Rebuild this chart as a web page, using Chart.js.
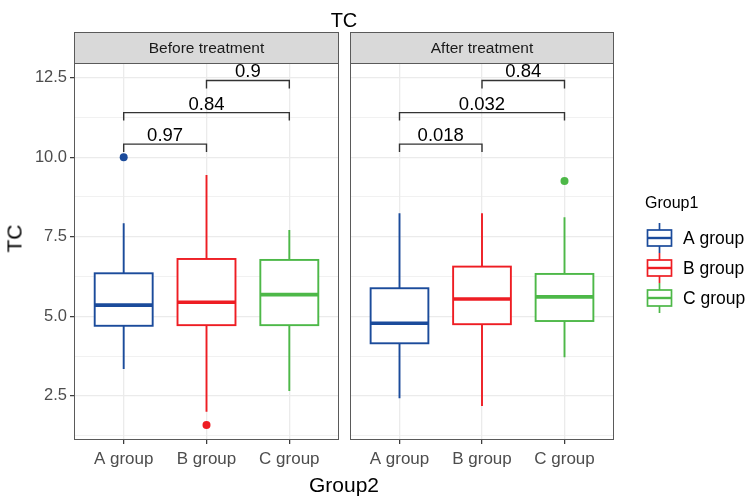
<!DOCTYPE html>
<html>
<head>
<meta charset="utf-8">
<script src="https://cdn.jsdelivr.net/npm/chart.js@4.4.0/dist/chart.umd.min.js"></script>
<style>
    body { margin: 0; background: #fff; }
    #wrap { position: relative; width: 750px; height: 497px; font-family: 'Liberation Sans', Arial, sans-serif; }
    canvas { position: absolute; top: 0; }
    #before { left: 0; }
    #after { left: 345px; }
    .title { position: absolute; color: #000; white-space: nowrap; text-align: center; }
    #main-title { left: 0; width: 688px; top: 10px; font-size: 20px; line-height: 20px; }
    #x-title { left: 0; width: 688px; top: 474px; font-size: 21px; line-height: 21px; }
    #y-title { left: -36px; top: 228px; width: 100px; font-size: 21px; line-height: 21px; transform: rotate(-90deg); }
</style>
</head>
<body>
<div id="wrap">
    <canvas id="before" width="345" height="497"></canvas>
    <canvas id="after" width="405" height="497"></canvas>
    <div class="title" id="main-title">TC</div>
    <div class="title" id="x-title">Group2</div>
    <div class="title" id="y-title">TC</div>
</div>
<script>
const groups = ['A group', 'B group', 'C group'];
const colors = ['#1B4B9B', '#EE1D23', '#4DB848'];

// box stats, one value per group
const beforeMin = [3.34, 2.00, 2.65];
const beforeQ1 = [4.70, 4.72, 4.72];
const beforeMedian = [5.35, 5.44, 5.68];
const beforeQ3 = [6.35, 6.80, 6.77];
const beforeMax = [7.92, 9.44, 7.71];
const beforeOutliers = [[10.0], [1.58], []];

const afterMin = [2.42, 2.18, 3.71];
const afterQ1 = [4.15, 4.75, 4.85];
const afterMedian = [4.78, 5.54, 5.61];
const afterQ3 = [5.88, 6.56, 6.33];
const afterMax = [8.24, 8.24, 8.11];
const afterOutliers = [[], [], [9.25]];

// pairwise comparisons (group numbers), bracket heights and p values
const comparePairs = [[1, 2], [1, 3], [2, 3]];
const bracketLevels = [10.41, 11.40, 12.41];
const beforePValues = ['0.97', '0.84', '0.9'];
const afterPValues = ['0.018', '0.032', '0.84'];

const yTicks = [1.25, 2.5, 3.75, 5, 6.25, 7.5, 8.75, 10, 11.25, 12.5];
const Y_MIN = 1.11;
const Y_MAX = 12.96;

const BOX_WIDTH = 0.7;
const TIP = 0.25;
const FONT = "'Liberation Sans', Arial, sans-serif";
const isMajor = v => Math.abs(v / 2.5 - Math.round(v / 2.5)) < 1e-6;

function panelPlugin(stats, pValues, stripText, withLegend) {
    return {
        id: 'panel',
        beforeDatasetsDraw(chart) {
            const {ctx, scales: {x, y}} = chart;
            ctx.save();
            groups.forEach((g, i) => {
                const cx = x.getPixelForValue(i + 1);
                const left = x.getPixelForValue(i + 1 - BOX_WIDTH / 2);
                const right = x.getPixelForValue(i + 1 + BOX_WIDTH / 2);
                const top = y.getPixelForValue(stats.q3[i]);
                const bot = y.getPixelForValue(stats.q1[i]);
                ctx.strokeStyle = colors[i];
                ctx.lineWidth = 1.9;
                ctx.beginPath();
                ctx.moveTo(cx, y.getPixelForValue(stats.max[i]));
                ctx.lineTo(cx, top);
                ctx.moveTo(cx, bot);
                ctx.lineTo(cx, y.getPixelForValue(stats.min[i]));
                ctx.stroke();
                ctx.fillStyle = '#fff';
                ctx.fillRect(left, top, right - left, bot - top);
                ctx.strokeRect(left, top, right - left, bot - top);
                const my = y.getPixelForValue(stats.median[i]);
                ctx.lineWidth = 3.6;
                ctx.beginPath();
                ctx.moveTo(left, my);
                ctx.lineTo(right, my);
                ctx.stroke();
            });
            ctx.restore();
        },
        afterDatasetsDraw(chart) {
            const {ctx, scales: {x, y}} = chart;
            ctx.save();
            ctx.strokeStyle = '#333';
            ctx.lineWidth = 1.4;
            ctx.fillStyle = '#000';
            ctx.font = `18.5px ${FONT}`;
            ctx.textAlign = 'center';
            ctx.textBaseline = 'alphabetic';
            comparePairs.forEach(([a, b], k) => {
                const x1 = x.getPixelForValue(a);
                const x2 = x.getPixelForValue(b);
                const yl = y.getPixelForValue(bracketLevels[k]);
                const yt = y.getPixelForValue(bracketLevels[k] - TIP);
                ctx.beginPath();
                ctx.moveTo(x1, yt);
                ctx.lineTo(x1, yl);
                ctx.lineTo(x2, yl);
                ctx.lineTo(x2, yt);
                ctx.stroke();
                ctx.fillText(pValues[k], (x1 + x2) / 2, yl - 3);
            });
            ctx.restore();
        },
        afterDraw(chart) {
            const {ctx, chartArea: a} = chart;
            ctx.save();
            // strip on top of panel
            ctx.fillStyle = '#D9D9D9';
            ctx.fillRect(a.left, 32, a.right - a.left, a.top - 32);
            ctx.strokeStyle = '#5a5a5a';
            ctx.lineWidth = 1;
            ctx.strokeRect(a.left + 0.5, 32.5, a.right - a.left - 1, a.top - 32);
            ctx.strokeRect(a.left + 0.5, a.top + 0.5, a.right - a.left - 1, a.bottom - a.top - 1);
            ctx.fillStyle = '#1A1A1A';
            ctx.font = `15.5px ${FONT}`;
            ctx.textAlign = 'center';
            ctx.textBaseline = 'middle';
            ctx.fillText(stripText, (a.left + a.right) / 2, (32 + a.top) / 2 + 1);

            if (withLegend) {
                const lx = 300;
                ctx.textAlign = 'left';
                ctx.fillStyle = '#000';
                ctx.font = `16px ${FONT}`;
                ctx.fillText('Group1', lx, 204);
                ctx.font = `17.5px ${FONT}`;
                groups.forEach((g, i) => {
                    const cy = 238 + 30 * i;
                    const kx = lx + 14.5;
                    ctx.strokeStyle = colors[i];
                    ctx.lineWidth = 1.7;
                    ctx.beginPath();
                    ctx.moveTo(kx, cy - 15);
                    ctx.lineTo(kx, cy + 15);
                    ctx.stroke();
                    ctx.fillStyle = '#fff';
                    ctx.fillRect(kx - 12, cy - 8, 24, 16);
                    ctx.strokeRect(kx - 12, cy - 8, 24, 16);
                    ctx.lineWidth = 2.4;
                    ctx.beginPath();
                    ctx.moveTo(kx - 12, cy);
                    ctx.lineTo(kx + 12, cy);
                    ctx.stroke();
                    ctx.fillStyle = '#000';
                    ctx.fillText(g, 338, cy + 1);
                });
            }
            ctx.restore();
        }
    };
}

function makeChart(id, stats, outliers, pValues, stripText, first) {
    return new Chart(document.getElementById(id), {
        type: 'scatter',
        data: {
            datasets: groups.map((g, i) => ({
                label: g,
                data: outliers[i].map(v => ({x: i + 1, y: v})),
                backgroundColor: colors[i],
                borderColor: colors[i],
                borderWidth: 0,
                pointRadius: 4,
                pointHoverRadius: 4
            }))
        },
        options: {
            responsive: false,
            animation: false,
            events: [],
            layout: {padding: {top: 63, left: first ? 0 : 5, right: first ? 6 : 136, bottom: 0}},
            scales: {
                x: {
                    type: 'linear',
                    min: 0.4,
                    max: 3.6,
                    afterBuildTicks: s => { s.ticks = [1, 2, 3].map(v => ({value: v})); },
                    afterFit: s => { s.height = 57; },
                    border: {display: false},
                    grid: {color: '#EBEBEB', lineWidth: 1.3, tickLength: 4, tickColor: '#333', tickWidth: 1.2},
                    ticks: {
                        callback: v => groups[v - 1],
                        autoSkip: false,
                        maxRotation: 0,
                        padding: 5,
                        color: '#4D4D4D',
                        font: {family: FONT, size: 17}
                    }
                },
                y: {
                    min: Y_MIN,
                    max: Y_MAX,
                    afterBuildTicks: s => { s.ticks = yTicks.map(v => ({value: v})); },
                    afterFit: s => { s.width = first ? 74 : 0; },
                    border: {display: false},
                    grid: {
                        color: '#EBEBEB',
                        lineWidth: c => (c.tick && isMajor(c.tick.value)) ? 1.3 : 0.7,
                        drawTicks: first,
                        tickLength: 4,
                        tickWidth: 1.2,
                        tickColor: c => (c.tick && isMajor(c.tick.value)) ? '#333' : 'rgba(0,0,0,0)'
                    },
                    ticks: {
                        display: first,
                        autoSkip: false,
                        padding: 3,
                        callback: v => isMajor(v) ? v.toFixed(1) : '',
                        color: '#4D4D4D',
                        font: {family: FONT, size: 16.5}
                    }
                }
            },
            plugins: {legend: {display: false}, tooltip: {enabled: false}}
        },
        plugins: [panelPlugin(stats, pValues, stripText, !first)]
    });
}

makeChart('before',
    {min: beforeMin, q1: beforeQ1, median: beforeMedian, q3: beforeQ3, max: beforeMax},
    beforeOutliers, beforePValues, 'Before treatment', true);
makeChart('after',
    {min: afterMin, q1: afterQ1, median: afterMedian, q3: afterQ3, max: afterMax},
    afterOutliers, afterPValues, 'After treatment', false);
</script>
</body>
</html>
